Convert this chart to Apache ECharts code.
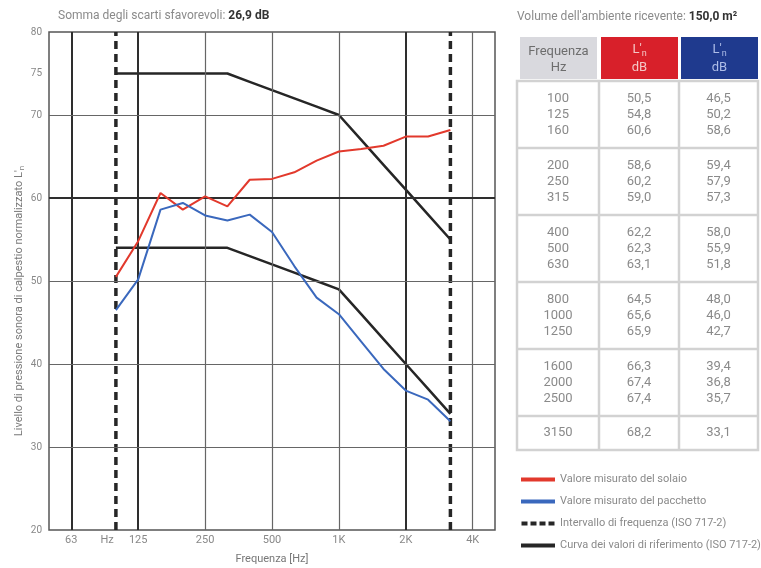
<!DOCTYPE html>
<html>
<head>
<meta charset="utf-8">
<script src="https://cdn.jsdelivr.net/npm/echarts@6/dist/echarts.min.js"></script>
<style>
html,body{margin:0;padding:0;background:#fff;}
#chart{width:761px;height:568px;}
</style>
</head>
<body>
<div id="chart"></div>
<script>
// ---------- DATA ----------
const freqCategories = ['50','63','80','100','125','160','200','250','315','400','500','630','800','1000','1250','1600','2000','2500','3150','4000','5000'];
const xTickLabels = {'63':'63','80':'Hz','125':'125','250':'250','500':'500','1000':'1K','2000':'2K','4000':'4K'};
const measuredFreqs = ['100','125','160','200','250','315','400','500','630','800','1000','1250','1600','2000','2500','3150'];
const solaio    = [50.5,54.8,60.6,58.6,60.2,59.0,62.2,62.3,63.1,64.5,65.6,65.9,66.3,67.4,67.4,68.2];
const pacchetto = [46.5,50.2,58.6,59.4,57.9,57.3,58.0,55.9,51.8,48.0,46.0,42.7,39.4,36.8,35.7,33.1];
const refUpper  = [75,75,75,75,75,75,74,73,72,71,70,67,64,61,58,55];
const refLower  = [54,54,54,54,54,54,53,52,51,50,49,46,43,40,37,34];
const rangeFreqs = ['100','3150'];
const yTickLabels = [80,75,70,60,50,40,30,20];
const thickGridFreqs = ['63','125','2000'];
const thinGridFreqs = ['250','500','1000','4000'];
const thickGridLevels = [60];
const thinGridLevels = [70,50,40,30];
const titleLeft = 'Somma degli scarti sfavorevoli: ';
const titleValue = '26,9 dB';
const volumeLeft = "Volume dell'ambiente ricevente: ";
const volumeValue = '150,0 m²';
const yAxisTitle = 'Livello di pressione sonora di calpestio normalizzato L\'';
const yAxisTitleSub = 'n';
const seriesNames = ['Valore misurato del solaio','Valore misurato del pacchetto','Intervallo di frequenza (ISO 717-2)','Curva dei valori di riferimento (ISO 717-2)'];

// ---------- STYLE ----------
const FONT = '"Liberation Sans Narrow","Roboto",sans-serif';
const RED = '#e2392c', BLUE = '#3a68bd', BLACK = '#262626';
const fmt = v => v.toFixed(1).replace('.', ',');

const chart = echarts.init(document.getElementById('chart'));

// ---------- TABLE (graphic) ----------
const T = {x0:517, c1:599, c2:679, x1:758, headTop:37, headBot:79, bodyTop:81, groupH:67, lineH:16};
const graphics = [];
const headers = [
  {x:520, w:77, fill:'#d9d9de', color:'#6d6d6d', lines:['Frequenza','Hz'], rich:false},
  {x:601, w:77, fill:'#d8202a', color:'#f4c6c6', rich:true},
  {x:681, w:77, fill:'#1f3a8e', color:'#aebde8', rich:true}
];
headers.forEach(h => {
  graphics.push({type:'rect', shape:{x:h.x, y:T.headTop, width:h.w, height:T.headBot-T.headTop}, style:{fill:h.fill}});
  if (!h.rich) {
    graphics.push({type:'text', x:h.x+h.w/2, y:52, style:{text:h.lines[0], fill:h.color, font:'13px '+FONT, align:'center', verticalAlign:'middle'}});
    graphics.push({type:'text', x:h.x+h.w/2, y:68, style:{text:h.lines[1], fill:h.color, font:'13px '+FONT, align:'center', verticalAlign:'middle'}});
  } else {
    graphics.push({type:'text', x:h.x+h.w/2, y:50, style:{text:"{a|L'}{b|n}", align:'center', verticalAlign:'middle',
      rich:{a:{fill:h.color, font:'13px '+FONT}, b:{fill:h.color, font:'9px '+FONT, padding:[8,0,0,0]}}}});
    graphics.push({type:'text', x:h.x+h.w/2, y:68, style:{text:'dB', fill:h.color, font:'13px '+FONT, align:'center', verticalAlign:'middle'}});
  }
});
const groups = [];
for (let i = 0; i < measuredFreqs.length; i += 3) groups.push([i, Math.min(i+3, measuredFreqs.length)]);
let gy = T.bodyTop;
const groupBounds = [];
groups.forEach(([a,b]) => {
  const n = b - a;
  const h = n === 3 ? T.groupH : 34;
  groupBounds.push([gy, gy+h]);
  const cy = gy + h/2;
  for (let k = a; k < b; k++) {
    const ty = cy + (k - a - (n-1)/2) * T.lineH;
    [[ (T.x0+T.c1)/2, measuredFreqs[k] ], [ (T.c1+T.c2)/2, fmt(solaio[k]) ], [ (T.c2+T.x1)/2, fmt(pacchetto[k]) ]].forEach(([tx, txt]) => {
      graphics.push({type:'text', x:tx, y:ty, style:{text:txt, fill:'#8a8a8a', font:'13px '+FONT, align:'center', verticalAlign:'middle'}});
    });
  }
  gy += h;
});
const bodyBot = gy;
const gridCol = '#d2d2d2';
graphics.push({type:'rect', shape:{x:T.x0, y:T.bodyTop, width:T.x1-T.x0, height:bodyBot-T.bodyTop}, style:{fill:'none', stroke:gridCol, lineWidth:2.5}});
[T.c1, T.c2].forEach(cx => graphics.push({type:'line', shape:{x1:cx, y1:T.bodyTop, x2:cx, y2:bodyBot}, style:{stroke:gridCol, lineWidth:2.5}}));
groupBounds.slice(0,-1).forEach(([, y]) => graphics.push({type:'line', shape:{x1:T.x0, y1:y, x2:T.x1, y2:y}, style:{stroke:gridCol, lineWidth:2.5}}));
// titles
graphics.push({type:'text', left:58, top:10, style:{text:'{a|'+titleLeft+'}{b|'+titleValue+'}', rich:{a:{fill:'#8a8a8a', font:'12px '+FONT}, b:{fill:'#333', font:'bold 12px '+FONT}}}});
graphics.push({type:'text', left:517, top:11, style:{text:'{a|'+volumeLeft+'}{b|'+volumeValue+'}', rich:{a:{fill:'#8a8a8a', font:'12px '+FONT}, b:{fill:'#333', font:'bold 12px '+FONT}}}});
// y axis title (rotated)
graphics.push({type:'text', x:19, y:301, rotation:Math.PI/2, style:{text:'{a|'+yAxisTitle+'}{b|'+yAxisTitleSub+'}', align:'center', verticalAlign:'middle',
  rich:{a:{fill:'#7a7a7a', font:'11px '+FONT}, b:{fill:'#7a7a7a', font:'8px '+FONT, padding:[6,0,0,0]}}}});

// ---------- GRID LINES (markLine) ----------
const gl = [];
thickGridFreqs.forEach(f => gl.push({xAxis:f, lineStyle:{color:'#2e2e2e', width:2, type:'solid'}}));
thinGridFreqs.forEach(f => gl.push({xAxis:f, lineStyle:{color:'#666', width:1.2, type:'solid'}}));
thickGridLevels.forEach(v => gl.push({yAxis:v, lineStyle:{color:'#2e2e2e', width:2, type:'solid'}}));
thinGridLevels.forEach(v => gl.push({yAxis:v, lineStyle:{color:'#666', width:1.2, type:'solid'}}));

const pairs = (fs, vs) => fs.map((f,i) => [f, vs[i]]);

chart.setOption({
  animation:false,
  backgroundColor:'#fff',
  textStyle:{fontFamily:FONT},
  grid:{left:49, right:266, top:32, bottom:38, show:true, borderColor:'#555', borderWidth:1.5, outerBoundsMode:'none', containLabel:false},
  xAxis:{
    type:'category', data:freqCategories, boundaryGap:false,
    name:'Frequenza [Hz]', nameLocation:'middle', nameGap:24,
    nameTextStyle:{color:'#777', fontSize:11, fontFamily:FONT},
    axisLine:{show:false}, axisTick:{show:false}, splitLine:{show:false},
    axisLabel:{interval:0, color:'#888', fontSize:11, fontFamily:FONT, margin:5,
      formatter:(v)=> v==='80' ? '{h|Hz}' : (xTickLabels[v] || ''),
      rich:{h:{padding:[0,0,0,27], color:'#888', fontSize:11, fontFamily:FONT}}}
  },
  yAxis:{
    type:'value', min:20, max:80, interval:5,
    axisLine:{show:false}, axisTick:{show:false}, splitLine:{show:false},
    axisLabel:{color:'#888', fontSize:10, fontFamily:FONT, margin:7,
      formatter:(v)=> yTickLabels.indexOf(v) >= 0 ? String(v) : ''}
  },
  legend:{
    orient:'vertical', left:516, top:469, itemWidth:34, itemHeight:4, itemGap:11,
    textStyle:{color:'#8a8a8a', fontSize:11, fontFamily:FONT},
    data:[
      {name:seriesNames[0], icon:'rect'},
      {name:seriesNames[1], icon:'rect'},
      {name:seriesNames[2], icon:'path://M0,0h6v4h-6zM9,0h6v4h-6zM18,0h6v4h-6zM27,0h6v4h-6z'},
      {name:seriesNames[3], icon:'rect'}
    ]
  },
  graphic:graphics,
  series:[
    {type:'line', name:'grid', data:[], silent:true, z:1,
      markLine:{silent:true, symbol:['none','none'], label:{show:false}, emphasis:{disabled:true}, data:gl}},
    {type:'line', name:seriesNames[3], data:pairs(measuredFreqs, refUpper), symbol:'none', color:BLACK, lineStyle:{color:BLACK, width:2.5}, z:3},
    {type:'line', name:seriesNames[3], data:pairs(measuredFreqs, refLower), symbol:'none', color:BLACK, lineStyle:{color:BLACK, width:2.5}, z:3},
    {type:'line', name:seriesNames[2], data:[[rangeFreqs[0],20],[rangeFreqs[0],80]], symbol:'none', color:BLACK, lineStyle:{color:BLACK, width:3.5, type:[8,5]}, z:4},
    {type:'line', name:seriesNames[2], data:[[rangeFreqs[1],20],[rangeFreqs[1],80]], symbol:'none', color:BLACK, lineStyle:{color:BLACK, width:3.5, type:[8,5]}, z:4},
    {type:'line', name:seriesNames[0], data:pairs(measuredFreqs, solaio), symbol:'none', color:RED, lineStyle:{color:RED, width:2}, z:5},
    {type:'line', name:seriesNames[1], data:pairs(measuredFreqs, pacchetto), symbol:'none', color:BLUE, lineStyle:{color:BLUE, width:2}, z:5}
  ]
});
</script>
</body>
</html>
